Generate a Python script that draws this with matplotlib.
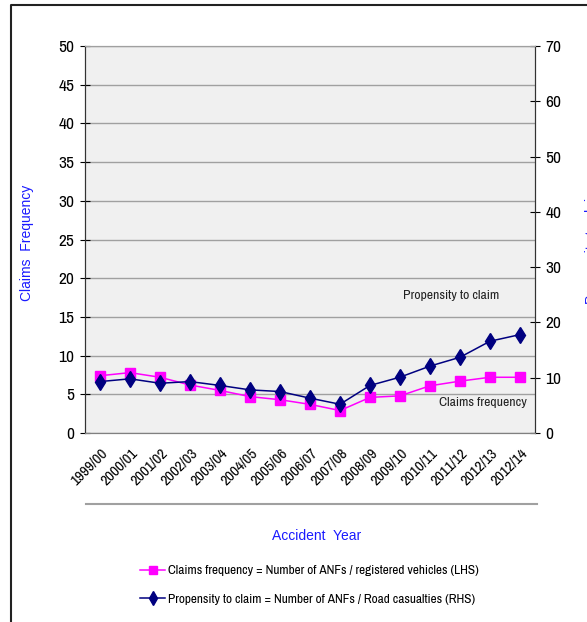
import matplotlib
matplotlib.use("Agg")
import matplotlib.pyplot as plt
from matplotlib import font_manager
from matplotlib.lines import Line2D

# datos
years = ["1999/00", "2000/01", "2001/02", "2002/03", "2003/04", "2004/05",
         "2005/06", "2006/07", "2007/08", "2008/09", "2009/10", "2010/11",
         "2011/12", "2012/13", "2012/14"]
claims_freq = [7.4, 7.8, 7.2, 6.2, 5.5, 4.7, 4.3, 3.7, 2.9, 4.6, 4.8, 6.1, 6.7, 7.2, 7.2]
propensity = [9.3, 9.8, 9.0, 9.3, 8.6, 7.8, 7.5, 6.3, 5.2, 8.6, 10.1, 12.1, 13.7, 16.6, 17.8]

# fuente estrecha si hay alguna, si no Liberation Sans mas pequena
narrow_names = sorted({f.name for f in font_manager.fontManager.ttflist
                       if "Narrow" in f.name or "Condensed" in f.name})
if narrow_names:
    narrow = [narrow_names[0], "DejaVu Sans"]
    fs_tick, fs_leg, fs_ann, fs_x = 12.5, 9.6, 9.8, 11
else:
    narrow = ["Liberation Sans", "DejaVu Sans"]
    fs_tick, fs_leg, fs_ann, fs_x = 11, 7.8, 8, 9

W, H = 587, 622

fig = plt.figure(figsize=(W / 100, H / 100), dpi=100)
ax = fig.add_axes([85 / W, 1 - 433 / H, 450 / W, 387 / H])
ax2 = ax.twinx()

ax.set_facecolor("#f0f0f0")
x = list(range(len(years)))

l1, = ax.plot(x, claims_freq, color="#ff00ff", marker="s", markersize=7,
              linewidth=1.1, label="Claims frequency = Number of ANFs / registered vehicles (LHS)")
l2, = ax2.plot(x, propensity, color="#000080", marker="d", markersize=8,
               linewidth=1.1, label="Propensity to claim = Number of ANFs / Road casualties (RHS)")

ax.set_xlim(-0.5, len(years) - 0.5)
ax.set_ylim(0, 50)
ax2.set_ylim(0, 70)
ax.set_yticks(range(0, 51, 5))
ax2.set_yticks(range(0, 71, 10))
ax.yaxis.grid(True, color="#a0a0a0", linewidth=1.0)
ax.set_axisbelow(True)

ax.set_xticks(x)
ax.set_xticklabels(years, rotation=45, ha="right", va="top", rotation_mode="anchor",
                   family=narrow, fontsize=fs_x)
ax.tick_params(axis="x", length=0, pad=9)
ax.tick_params(axis="y", direction="inout", length=7, labelsize=fs_tick, pad=4)
ax2.tick_params(axis="y", direction="inout", length=7, labelsize=fs_tick, pad=4)
for lab in ax.get_yticklabels() + ax2.get_yticklabels():
    lab.set_family(narrow)

for a in (ax, ax2):
    a.spines["top"].set_color("#a0a0a0")
    a.spines["bottom"].set_color("#808080")
    a.spines["left"].set_color("#333333")
    a.spines["right"].set_color("#333333")

ax.text(11.7, 17.8, "Propensity to claim", family=narrow, fontsize=fs_ann,
        ha="center", va="center", color="#222222")
ax.text(12.75, 3.9, "Claims frequency", family=narrow, fontsize=fs_ann,
        ha="center", va="center", color="#222222")

fig.text(27 / W, 1 - 243 / H, "Claims  Frequency", rotation=90, color="#1a1aff",
         ha="center", va="center", fontsize=10, family="Liberation Sans")
fig.text(585 / W, 1 - 245 / H, "Propensity to claim", rotation=90, color="#1a1aff",
         ha="left", va="center", fontsize=10, family="Liberation Sans")
fig.text(317 / W, 1 - 536 / H, "Accident  Year", color="#1a1aff",
         ha="center", va="center", fontsize=10, family="Liberation Sans")

# linea separadora y marco exterior
fig.add_artist(Line2D([86 / W, 537 / W], [1 - 504 / H, 1 - 504 / H],
                      color="#a0a0a0", linewidth=1.5))
fig.add_artist(Line2D([11 / W, 11 / W, 1.0], [0, 1 - 5 / H, 1 - 5 / H],
                      color="#222222", linewidth=1.5))

leg = fig.legend(handles=[l1, l2], loc="center left",
                 bbox_to_anchor=(128 / W, 1 - 585 / H), frameon=False,
                 prop={"family": narrow, "size": fs_leg}, handlelength=1.9,
                 handletextpad=0.2, labelspacing=1.3, markerscale=0.85)

fig.savefig("out.png", dpi=100)
